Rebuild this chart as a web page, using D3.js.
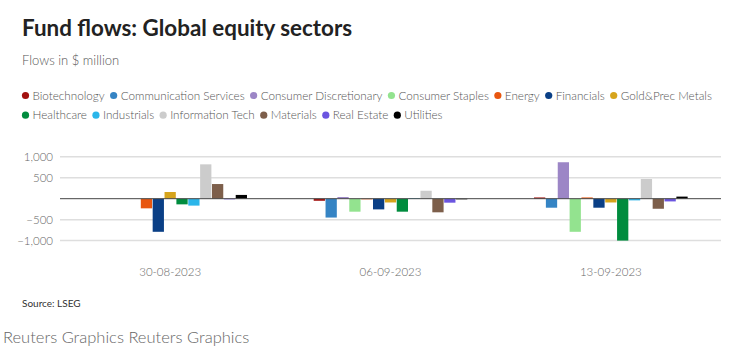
<!DOCTYPE html>
<html><head><meta charset="utf-8">
<script src="https://cdn.jsdelivr.net/npm/d3@7"></script>
<style>
body{margin:0;background:#fff;}
svg{display:block;font-family:Lato, "Noto Sans", sans-serif;}
</style></head>
<body><svg id="chart" width="740" height="363"></svg>
<script>
const dates = ["30-08-2023", "06-09-2023", "13-09-2023"];
const sectors = ["Biotechnology","Communication Services","Consumer Discretionary","Consumer Staples","Energy","Financials","Gold&Prec Metals","Healthcare","Industrials","Information Tech","Materials","Real Estate","Utilities"];
const colors = ["#a3120f","#3584c4","#9c86c6","#93e38f","#e8560f","#0a3f86","#d6a41c","#008c3e","#2bb6ea","#cccccc","#7d5f4b","#6b55e0","#000000"];
// values per sector, in order of dates
const flows30Aug = [0, 0, 0, 0, -230, -790, 160, -135, -165, 820, 350, -15, 90];
const flows06Sep = [-50, -450, 40, -310, -15, -255, -90, -310, 15, 190, -325, -95, -15];
const flows13Sep = [30, -215, 870, -790, 30, -215, -90, -1000, -40, 470, -240, -65, 50];
const yTicks = [1000, 500, -500, -1000];

const seriesByDate = [flows30Aug, flows06Sep, flows13Sep];
const svg = d3.select("#chart");

// titles
svg.append("text").attr("x",22).attr("y",36).attr("font-size",22.4).attr("font-weight",700).attr("fill","#222").text("Fund flows: Global equity sectors");
svg.append("text").attr("x",22).attr("y",65).attr("font-size",13).attr("font-weight",300).attr("fill","#555").text("Flows in $ million");

// legend
const legendRows = [sectors.slice(0,7), sectors.slice(7)];
legendRows.forEach((row,ri)=>{
  let x = 25.5;
  const y = 95.5 + ri*19.7;
  row.forEach(s=>{
    const i = sectors.indexOf(s);
    svg.append("circle").attr("cx",x).attr("cy",y).attr("r",3.6).attr("fill",colors[i]);
    const t = svg.append("text").attr("x",x+7).attr("y",y+4.2).attr("font-size",11.7).attr("font-weight",300).attr("fill","#555").text(s);
    x += 7 + t.node().getComputedTextLength() + 9;
  });
});

// scales
const x0 = d3.scaleBand().domain(dates).range([60,721]).paddingInner(0.3).paddingOuter(0.15);
const x1 = d3.scaleBand().domain(sectors).range([0,x0.bandwidth()]).padding(0);
const y = d3.scaleLinear().domain([-1000,1000]).range([240.6,156.8]);

// grid
const yAxis = d3.axisLeft(y).tickValues(yTicks).tickSize(0).tickFormat(d=>d3.format(",")(d).replace("-","\u2212"));
const ga = svg.append("g").attr("transform","translate(60,0)").call(yAxis);
ga.select(".domain").remove();
ga.selectAll("text").attr("x",-7).attr("font-size",11.5).attr("fill","#666").attr("font-family","Lato, sans-serif").attr("font-weight",300);
svg.append("g").selectAll("line").data(yTicks).join("line")
  .attr("x1",60).attr("x2",721).attr("y1",d=>y(d)).attr("y2",d=>y(d))
  .attr("stroke","#dedede").attr("stroke-width",1.5);

// bars
dates.forEach((d,di)=>{
  const g = svg.append("g").attr("transform",`translate(${x0(d)},0)`);
  g.selectAll("rect").data(seriesByDate[di].map((v,i)=>({v,i}))).join("rect")
    .attr("x",e=>x1(sectors[e.i])+0.3)
    .attr("width",x1.bandwidth()-0.6)
    .attr("y",e=>Math.min(y(e.v),y(0)))
    .attr("height",e=>Math.abs(y(e.v)-y(0)))
    .attr("fill",e=>colors[e.i]);
});
// zero line
svg.append("line").attr("x1",60).attr("x2",721).attr("y1",y(0)).attr("y2",y(0)).attr("stroke","#444").attr("stroke-width",1);

// x axis labels
const xAxis = d3.axisBottom(x0).tickSize(0);
const gx = svg.append("g").attr("transform","translate(0,265)").call(xAxis);
gx.select(".domain").remove();
gx.selectAll("text").attr("font-size",11.5).attr("fill","#666").attr("font-family","Lato, sans-serif").attr("font-weight",300);

// footer
svg.append("text").attr("x",22).attr("y",307).attr("font-size",10).attr("fill","#333").text("Source: LSEG");
svg.append("text").attr("x",3).attr("y",343).attr("font-size",16.5).attr("font-weight",300).attr("fill","#666").text("Reuters Graphics Reuters Graphics");
</script></body></html>
